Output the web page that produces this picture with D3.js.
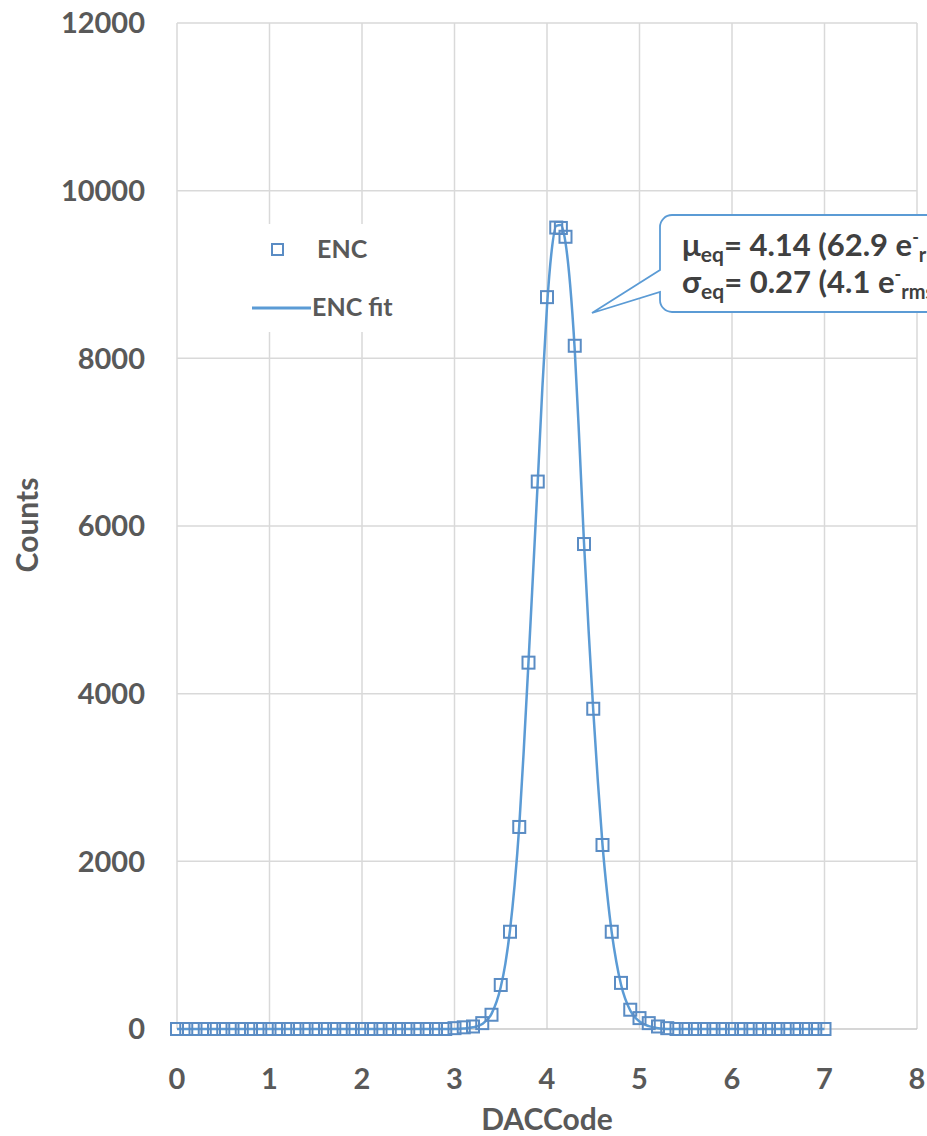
<!DOCTYPE html>
<html>
<head>
<meta charset="utf-8">
<script src="https://cdn.jsdelivr.net/npm/d3@7"></script>
<style>
  body { margin: 0; background: #fff; }
  text { font-family: Lato, "Open Sans", sans-serif; font-weight: bold; }
</style>
</head>
<body>
<script>
//ENC histogram with gaussian fit

//measured points (DACCode, counts)
var encX = [0, 0.1, 0.2, 0.3, 0.4, 0.5, 0.6, 0.7, 0.8, 0.9,
    1, 1.1, 1.2, 1.3, 1.4, 1.5, 1.6, 1.7, 1.8, 1.9,
    2, 2.1, 2.2, 2.3, 2.4, 2.5, 2.6, 2.7, 2.8, 2.9,
    3, 3.1, 3.2, 3.3, 3.4, 3.5, 3.6, 3.7, 3.8, 3.9,
    4, 4.1, 4.15, 4.2, 4.3, 4.4, 4.5, 4.6, 4.7, 4.8, 4.9,
    5, 5.1, 5.2, 5.3, 5.4, 5.5, 5.6, 5.7, 5.8, 5.9,
    6, 6.1, 6.2, 6.3, 6.4, 6.5, 6.6, 6.7, 6.8, 6.9, 7];
var encY = [0, 0, 0, 0, 0, 0, 0, 0, 0, 0,
    0, 0, 0, 0, 0, 0, 0, 0, 0, 0,
    0, 0, 0, 0, 0, 0, 0, 0, 0, 0,
    10, 20, 30, 70, 170, 525, 1160, 2410, 4370, 6530,
    8730, 9560, 9555, 9450, 8150, 5785, 3820, 2195, 1160, 550, 230,
    130, 70, 30, 10, 0, 0, 0, 0, 0, 0,
    0, 0, 0, 0, 0, 0, 0, 0, 0, 0, 0];

//fit curve
var fitX = [0, 3, 3.1, 3.2, 3.3, 3.4, 3.5, 3.55, 3.6, 3.65, 3.7, 3.75, 3.8, 3.85, 3.9, 3.95,
    4, 4.05, 4.1, 4.15, 4.2, 4.25, 4.3, 4.35, 4.4, 4.45, 4.5, 4.55, 4.6, 4.65, 4.7, 4.75, 4.8,
    4.9, 5, 5.1, 5.2, 5.3, 7];
var fitY = [0, 0, 5, 20, 60, 180, 500, 780, 1180, 1720, 2420, 3350, 4380, 5450, 6530, 7650,
    8620, 9280, 9580, 9590, 9380, 8880, 8100, 7000, 5800, 4750, 3800, 2950, 2200, 1620, 1150, 800, 530,
    220, 90, 35, 10, 0, 0];

//axis ticks
var xTicks = [0, 1, 2, 3, 4, 5, 6, 7, 8];
var yTicks = [0, 2000, 4000, 6000, 8000, 10000, 12000];

window.onload = function(){
    var w = 927, h = 1136;
    var blue = "#5b9bd5";

    var svg = d3.select("body")
        .append("svg")
        .attr("width", w)
        .attr("height", h);

    //scales
    var x = d3.scaleLinear().domain([0, 8]).range([177, 917]);
    var y = d3.scaleLinear().domain([0, 12000]).range([1029, 23]);

    //gridlines
    svg.selectAll(".vgrid")
        .data(xTicks)
        .enter()
        .append("line")
        .attr("class", "vgrid")
        .attr("x1", function(d){ return x(d); })
        .attr("x2", function(d){ return x(d); })
        .attr("y1", y(12000))
        .attr("y2", y(0))
        .style("stroke", "#d9d9d9")
        .style("stroke-width", 1.5);

    svg.selectAll(".hgrid")
        .data(yTicks)
        .enter()
        .append("line")
        .attr("class", "hgrid")
        .attr("x1", x(0))
        .attr("x2", x(8))
        .attr("y1", function(d){ return y(d); })
        .attr("y2", function(d){ return y(d); })
        .style("stroke", function(d){ return d === 0 ? "#c8c8c8" : "#d9d9d9"; })
        .style("stroke-width", 1.5);

    //tick labels
    svg.selectAll(".ylab")
        .data(yTicks)
        .enter()
        .append("text")
        .attr("class", "ylab")
        .attr("x", 145)
        .attr("y", function(d){ return y(d); })
        .attr("dy", "0.36em")
        .attr("text-anchor", "end")
        .style("font-size", "29px")
        .style("fill", "#595959")
        .text(function(d){ return d; });

    svg.selectAll(".xlab")
        .data(xTicks)
        .enter()
        .append("text")
        .attr("class", "xlab")
        .attr("x", function(d){ return x(d); })
        .attr("y", 1089)
        .attr("text-anchor", "middle")
        .style("font-size", "29px")
        .style("fill", "#595959")
        .text(function(d){ return d; });

    //axis titles
    svg.append("text")
        .attr("x", 547)
        .attr("y", 1130)
        .attr("text-anchor", "middle")
        .style("font-size", "30px")
        .style("fill", "#595959")
        .text("DACCode");

    svg.append("text")
        .attr("transform", "translate(38, 525) rotate(-90)")
        .attr("text-anchor", "middle")
        .style("font-size", "30px")
        .style("fill", "#595959")
        .text("Counts");

    //fit line
    var line = d3.line()
        .x(function(d){ return x(d[0]); })
        .y(function(d){ return y(d[1]); })
        .curve(d3.curveMonotoneX);

    svg.append("path")
        .datum(d3.zip(fitX, fitY))
        .attr("d", line)
        .style("fill", "none")
        .style("stroke", blue)
        .style("stroke-width", 2.5);

    //square markers
    var ms = 12;
    svg.selectAll(".pts")
        .data(d3.zip(encX, encY))
        .enter()
        .append("rect")
        .attr("class", "pts")
        .attr("x", function(d){ return x(d[0]) - ms / 2; })
        .attr("y", function(d){ return y(d[1]) - ms / 2; })
        .attr("width", ms)
        .attr("height", ms)
        .style("fill", "none")
        .style("stroke", "#5a8cc4")
        .style("stroke-width", 2);

    //legend
    var legend = svg.append("g").attr("class", "legend");
    legend.append("rect")
        .attr("x", 245).attr("y", 224)
        .attr("width", 175).attr("height", 108)
        .style("fill", "#fff");
    legend.append("rect")
        .attr("x", 272).attr("y", 244)
        .attr("width", 11).attr("height", 11)
        .style("fill", "none")
        .style("stroke", "#5a8cc4")
        .style("stroke-width", 2);
    legend.append("text")
        .attr("x", 317).attr("y", 258)
        .style("font-size", "25px")
        .style("fill", "#595959")
        .text("ENC");
    legend.append("line")
        .attr("x1", 252).attr("x2", 311)
        .attr("y1", 308).attr("y2", 308)
        .style("stroke", blue)
        .style("stroke-width", 3);
    legend.append("text")
        .attr("x", 312).attr("y", 316)
        .style("font-size", "25px")
        .style("fill", "#595959")
        .text("ENC fit");

    //callout box with pointer
    var bx = 660, by = 215, bb = 312, r = 12;
    var callout = svg.append("g").attr("class", "callout");
    callout.append("path")
        .attr("d", "M" + (bx + r) + "," + by +
            "H" + (w + 20) + "V" + bb + "H" + (bx + r) +
            "A" + r + "," + r + " 0 0 1 " + bx + "," + (bb - r) +
            "V292L592,313L" + bx + ",270" +
            "V" + (by + r) +
            "A" + r + "," + r + " 0 0 1 " + (bx + r) + "," + by + "Z")
        .style("fill", "#fff")
        .style("stroke", blue)
        .style("stroke-width", 1.8);

    var lines = [
        {sym: "μ", val: "= 4.14 (62.9 e", y: 256},
        {sym: "σ", val: "= 0.27 (4.1 e", y: 293}
    ];
    lines.forEach(function(l){
        var t = callout.append("text")
            .attr("x", 682)
            .attr("y", l.y)
            .style("font-size", "31px")
            .style("fill", "#404040");
        t.append("tspan").text(l.sym);
        t.append("tspan").attr("dy", 6).style("font-size", "21px").text("eq");
        t.append("tspan").attr("dy", -6).text(l.val);
        t.append("tspan").attr("dy", -12).style("font-size", "18px").text("-");
        t.append("tspan").attr("dy", 18).style("font-size", "20px").text("rms");
        t.append("tspan").attr("dy", -6).text(")");
    });
};
</script>
</body>
</html>
